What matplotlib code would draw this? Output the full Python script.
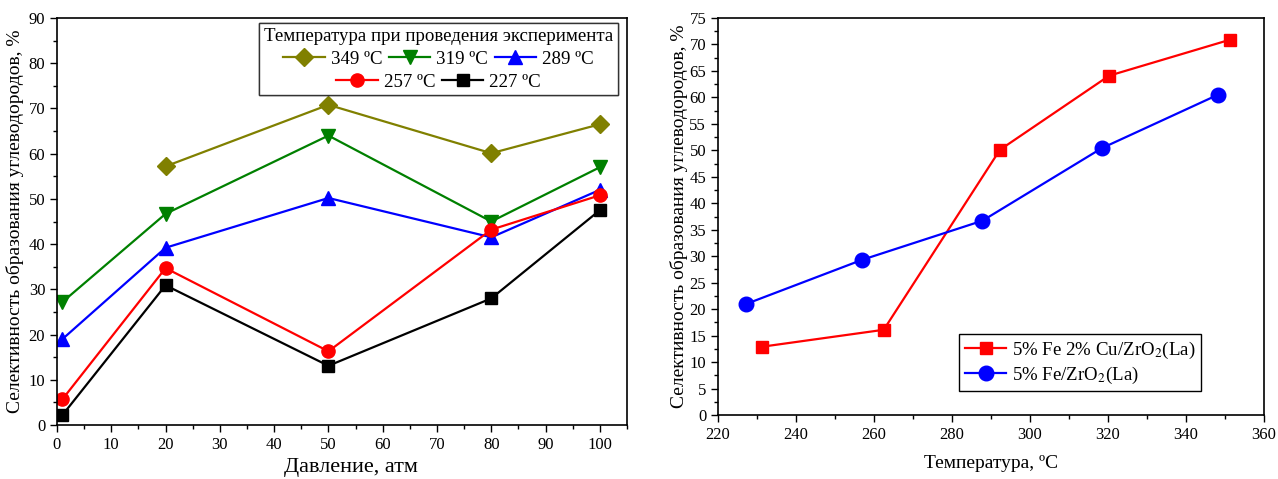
import matplotlib
matplotlib.use("Agg")
import matplotlib.pyplot as plt
from matplotlib.ticker import MultipleLocator
from matplotlib.lines import Line2D

plt.rcParams['font.family'] = ['Liberation Serif', 'DejaVu Serif']
plt.rcParams['mathtext.fontset'] = 'stix'
plt.rcParams['font.size'] = 12

# Left panel: selectivity vs pressure at several temperatures
pressure = [1, 20, 50, 80, 100]
pressure_349 = [20, 50, 80, 100]
sel_349 = [57.2, 70.8, 60.1, 66.5]
sel_319 = [27.2, 46.7, 64.0, 45.0, 57.0]
sel_289 = [19.0, 39.2, 50.2, 41.5, 52.0]
sel_257 = [5.7, 34.7, 16.3, 43.2, 50.8]
sel_227 = [2.2, 30.9, 13.1, 28.0, 47.5]
temp_labels = ['349 ºC', '319 ºC', '289 ºC', '257 ºC', '227 ºC']

# Right panel: selectivity vs temperature for two catalysts
temp_fecu = [231.3, 262.5, 292.3, 320.3, 351.3]
sel_fecu = [12.9, 16.1, 50.1, 64.1, 70.9]
temp_fe = [227.3, 256.9, 287.8, 318.4, 348.2]
sel_fe = [21.0, 29.3, 36.7, 50.4, 60.5]
cat_labels = ['5% Fe 2% Cu/ZrO$_2$(La)', '5% Fe/ZrO$_2$(La)']

LEG_FS = 13.6
LAB_FS = 14

fig = plt.figure(figsize=(12.78, 4.79), dpi=100)
ax1 = fig.add_axes([0.0446, 0.1127, 0.446, 0.8497])
ax2 = fig.add_axes([0.5618, 0.1336, 0.4272, 0.8288])

lw = 1.6
ms = 9.5
series = [
    (pressure_349, sel_349, '#808000', 'D', ms),
    (pressure, sel_319, '#008000', 'v', ms + 1),
    (pressure, sel_289, '#0000FF', '^', ms + 1),
    (pressure, sel_257, '#FF0000', 'o', ms),
    (pressure, sel_227, '#000000', 's', ms - 1),
]
handles = []
for (xs, ys, c, m, s), lab in zip(series, temp_labels):
    h, = ax1.plot(xs, ys, color=c, marker=m, markersize=s, lw=lw, label=lab)
    handles.append(h)

ax1.set_xlim(0, 105)
ax1.set_ylim(0, 90)
ax1.xaxis.set_major_locator(MultipleLocator(10))
ax1.xaxis.set_minor_locator(MultipleLocator(5))
ax1.yaxis.set_major_locator(MultipleLocator(10))
ax1.yaxis.set_minor_locator(MultipleLocator(5))
ax1.set_xlabel('Давление, атм', fontsize=16, labelpad=4, x=0.515)
ax1.set_ylabel('Селективность образования углеводородов, %', fontsize=LAB_FS,
               labelpad=3)

blank = Line2D([], [], linestyle='none', marker='none')
leg_kw = dict(fontsize=LEG_FS, handlelength=2.2, handletextpad=0.3,
              columnspacing=0.35, borderpad=0.25, labelspacing=0.3)
leg1 = ax1.legend([handles[0], blank, handles[1], blank, handles[2], blank],
                  [temp_labels[0], ' ', temp_labels[1], ' ', temp_labels[2], ' '],
                  ncol=3, title='Температура при проведения эксперимента',
                  title_fontsize=LEG_FS, loc='upper right',
                  bbox_to_anchor=(0.984, 0.988), borderaxespad=0,
                  fancybox=False, edgecolor='#333333', framealpha=1, **leg_kw)
leg1.get_frame().set_linewidth(1.0)
ax1.add_artist(leg1)

# Right panel
ax2.plot(temp_fecu, sel_fecu, color='#FF0000', marker='s', markersize=9, lw=lw,
         label=cat_labels[0])
ax2.plot(temp_fe, sel_fe, color='#0000FF', marker='o', markersize=10.5, lw=lw,
         label=cat_labels[1])
ax2.set_xlim(220, 360)
ax2.set_ylim(0, 75)
ax2.xaxis.set_major_locator(MultipleLocator(20))
ax2.xaxis.set_minor_locator(MultipleLocator(10))
ax2.yaxis.set_major_locator(MultipleLocator(5))
ax2.yaxis.set_minor_locator(MultipleLocator(2.5))
ax2.set_xlabel('Температура, ºC', fontsize=LAB_FS, labelpad=9)
ax2.set_ylabel('Селективность образования углеводородов, %', fontsize=LAB_FS,
               labelpad=1)
leg2 = ax2.legend(loc='lower right', bbox_to_anchor=(0.885, 0.06),
                  borderaxespad=0, fancybox=False, edgecolor='#000000',
                  framealpha=1, fontsize=LEG_FS, handlelength=2.2,
                  handletextpad=0.3, borderpad=0.3, labelspacing=0.2)
leg2.get_frame().set_linewidth(1.0)

for ax in (ax1, ax2):
    for sp in ax.spines.values():
        sp.set_linewidth(1.2)
    ax.tick_params(which='both', direction='out', top=False, right=False,
                   labelsize=12, width=1.0)
    ax.tick_params(which='major', length=5)
    ax.tick_params(which='minor', length=3)

# second row of the temperature legend, centred under the first row
fig.canvas.draw()
inv = fig.transFigure.inverted()
bb = leg1.get_window_extent()
row2 = leg1.get_texts()[1].get_window_extent()
cx = inv.transform([[(bb.x0 + bb.x1) / 2, 0]])[0][0]
cy = inv.transform([[0, (row2.y0 + row2.y1) / 2]])[0][1]
leg1b = fig.legend([handles[3], handles[4]], temp_labels[3:], ncol=2,
                   loc='center', bbox_to_anchor=(cx, cy), frameon=False,
                   borderaxespad=0, **leg_kw)

fig.savefig('out.png', dpi=100)
